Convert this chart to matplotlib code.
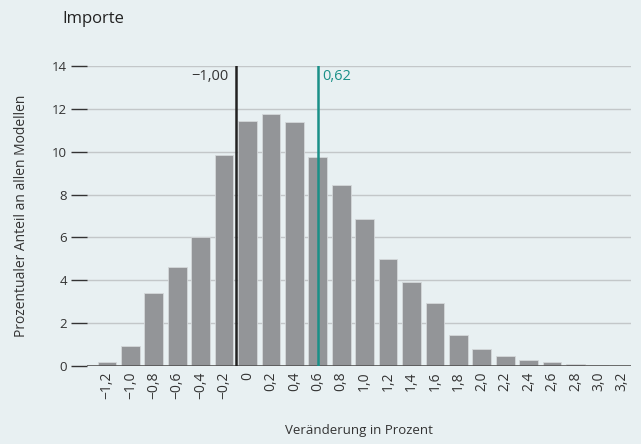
import matplotlib.pyplot as plt
import numpy as np

plt.rcParams['font.family'] = ['Open Sans', 'DejaVu Sans']

# data
categories = [-1.2, -1.0, -0.8, -0.6, -0.4, -0.2, 0.0, 0.2, 0.4, 0.6, 0.8, 1.0,
              1.2, 1.4, 1.6, 1.8, 2.0, 2.2, 2.4, 2.6, 2.8, 3.0, 3.2]
shares = [0.2, 0.95, 3.4, 4.6, 6.0, 9.85, 11.45, 11.75, 11.4, 9.75, 8.45, 6.85,
          5.0, 3.9, 2.95, 1.45, 0.78, 0.48, 0.27, 0.18, 0.1, 0.03, 0.0]
tick_labels = ["0" if c == 0 else f"{c:.1f}".replace(".", ",").replace("-", "\u2212")
               for c in categories]
mean_pos, mean_label = 5.5, "\u22121,00"
median_pos, median_label = 9, "0,62"

bg = "#e8f0f2"
fig = plt.figure(figsize=(6.41, 4.44), dpi=100, facecolor=bg)
ax = fig.add_axes([0.1357, 0.1757, 0.848, 0.6757], facecolor=bg)

x = np.arange(len(categories))
ax.bar(x, shares, width=0.8, color="#939598", edgecolor="#d4d8da", linewidth=0.6, zorder=2)

ax.set_ylim(0, 14)
ax.set_xlim(-0.85, 22.35)
ax.set_yticks(range(0, 15, 2))
ax.yaxis.grid(True, color="#c3c7c9", linewidth=1, zorder=0)
ax.axhline(0, color="#555555", linewidth=1.2, zorder=3)
for s in ax.spines.values():
    s.set_visible(False)

ax.set_xticks(x)
ax.set_xticklabels(tick_labels, rotation=90, fontsize=10, color="#333333")
ax.tick_params(axis="x", length=0, pad=4)
ax.tick_params(axis="y", length=11.5, width=1, color="#333333", pad=3,
               labelsize=9.5, labelcolor="#333333")

ax.axvline(mean_pos, color="#222222", linewidth=1.8, zorder=4)
ax.axvline(median_pos, color="#1a9088", linewidth=1.8, zorder=4)
ax.text(mean_pos - 0.3, 13.5, mean_label, ha="right", va="center", fontsize=10.5, color="#333333")
ax.text(median_pos + 0.2, 13.5, median_label, ha="left", va="center", fontsize=10.5, color="#1a9088")

ax.set_xlabel("Veränderung in Prozent", fontsize=9.5, color="#333333", labelpad=18)
ax.set_ylabel("Prozentualer Anteil an allen Modellen", fontsize=10, color="#333333", labelpad=16)
fig.text(0.097, 0.958, "Importe", fontsize=12, color="#222222", va="center")

fig.savefig("out.png", dpi=100, facecolor=bg)
